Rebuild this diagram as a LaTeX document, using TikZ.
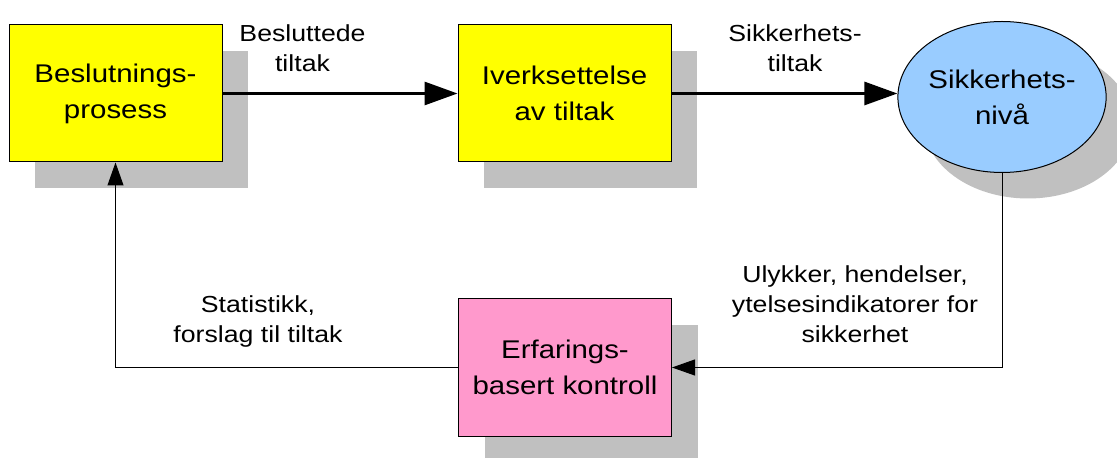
\documentclass[tikz,border=0pt]{standalone}
\usepackage{fontspec}
\setmainfont{Liberation Sans}[FakeStretch=1.15]
\usetikzlibrary{arrows.meta,positioning,shapes.geometric,shadows}

\definecolor{procyellow}{RGB}{255,255,0}
\definecolor{ctrlpink}{RGB}{255,153,204}
\definecolor{levelblue}{RGB}{153,204,255}
\definecolor{shadowgray}{RGB}{192,192,192}

\tikzset{
  shade/.style={drop shadow={shadow xshift=13pt, shadow yshift=-13pt, opacity=1, fill=shadowgray}},
  block/.style={draw=black, line width=0.5pt, shade, minimum width=106.5pt, minimum height=68.5pt,
    inner sep=0pt, align=center, font=\fontsize{12.8}{18}\selectfont},
  level/.style={ellipse, draw=black, line width=0.5pt, shade, fill=levelblue, minimum width=102pt,
    minimum height=75.5pt, inner sep=0pt, align=center, font=\fontsize{12.8}{18}\selectfont},
  flowlabel/.style={align=center, inner sep=0pt, font=\fontsize{11.6}{15}\selectfont},
  mainflow/.style={line width=1.5pt, -{Triangle[length=16.5pt,width=11.5pt]}},
  backflow/.style={line width=0.5pt, -{Triangle[length=11.5pt,width=8pt]}}
}

\begin{document}
\begin{tikzpicture}[x=0.5pt,y=-0.5pt]
\useasboundingbox (0,0) rectangle (1117,458);

% boxes and the level ellipse
\node[block, fill=procyellow] (beslut) at (115.5,93.5) {Beslutnings-\\prosess};
\node[block, fill=procyellow] (iverk) at (564.5,93.5) {Iverksettelse\\av tiltak};
\node[level] (niva) at (1002,97) {Sikkerhets-\\nivå};
\node[block, fill=ctrlpink] (kontroll) at (565,367.5) {Erfarings-\\basert kontroll};

% labels on the connectors
\node[flowlabel] (lbtiltak) at (302.5,48) {Besluttede\\tiltak};
\node[flowlabel] (lsikker) at (795,48) {Sikkerhets-\\tiltak};
\node[flowlabel] (lulykker) at (855,304) {Ulykker, hendelser,\\ytelsesindikatorer for\\sikkerhet};
\node[flowlabel] (lstat) at (258,322) {Statistikk,\\forslag til tiltak};

% forward flow
\draw[mainflow] (beslut.east) -- (iverk.west);
\draw[mainflow] (iverk.east) -- (iverk.east -| niva.west);

% feedback loop
\draw[backflow] (niva.south) |- (kontroll.east);
\draw[backflow] (kontroll.west) -| (beslut.south);
\end{tikzpicture}
\end{document}
